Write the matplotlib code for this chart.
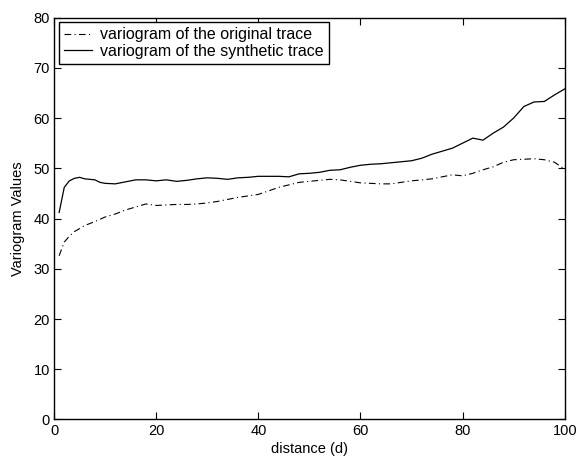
import numpy as np
import matplotlib.pyplot as plt

plt.rcParams['font.family'] = ['Liberation Sans', 'DejaVu Sans']

# distance values and variogram readings
d_orig = [1, 2, 3, 4, 6, 8, 10, 12, 14, 16, 18, 20, 22, 24, 26, 28, 30, 32, 34,
          36, 38, 40, 42, 44, 46, 48, 50, 52, 54, 56, 58, 60, 62, 64, 66, 68,
          70, 72, 74, 76, 78, 80, 82, 84, 86, 88, 90, 92, 94, 96, 98, 100]
v_orig = [32.6, 35.3, 36.5, 37.4, 38.6, 39.4, 40.3, 40.9, 41.7, 42.3, 42.9,
          42.6, 42.7, 42.8, 42.8, 42.9, 43.1, 43.4, 43.8, 44.2, 44.5, 44.8,
          45.5, 46.2, 46.7, 47.2, 47.4, 47.6, 47.8, 47.7, 47.4, 47.1, 47.0,
          46.9, 46.9, 47.2, 47.5, 47.7, 47.9, 48.3, 48.7, 48.5, 49.0, 49.7,
          50.3, 51.2, 51.7, 51.8, 51.9, 51.7, 51.2, 49.8]

d_syn = [1, 2, 3, 4, 5, 6, 7, 8, 9, 10, 12, 14, 16, 18, 20, 22, 24, 26, 28, 30,
         32, 34, 36, 38, 40, 42, 44, 46, 48, 50, 52, 54, 56, 58, 60, 62, 64,
         66, 68, 70, 72, 74, 76, 78, 80, 82, 84, 86, 88, 90, 92, 94, 96, 98, 100]
v_syn = [41.2, 46.2, 47.5, 48.0, 48.2, 47.9, 47.8, 47.7, 47.2, 47.0, 46.9,
         47.3, 47.7, 47.7, 47.5, 47.7, 47.4, 47.6, 47.9, 48.1, 48.0, 47.8,
         48.1, 48.2, 48.4, 48.4, 48.4, 48.3, 48.9, 49.0, 49.2, 49.6, 49.7,
         50.2, 50.6, 50.8, 50.9, 51.1, 51.3, 51.5, 52.0, 52.8, 53.4, 54.0,
         55.0, 56.0, 55.6, 57.0, 58.2, 60.0, 62.3, 63.2, 63.3, 64.6, 65.8]

fig = plt.figure(figsize=(5.81, 4.62), dpi=100)
ax = fig.add_axes([0.093, 0.092, 0.879, 0.870])

ax.plot(d_orig, v_orig, color='black', lw=0.8, linestyle=(0, (6, 3, 1, 3)),
        label='variogram of the original trace')
ax.plot(d_syn, v_syn, color='black', lw=0.9, label='variogram of the synthetic trace')

ax.set_xlim(0, 100)
ax.set_ylim(0, 80)
ax.set_xticks(np.arange(0, 101, 20))
ax.set_yticks(np.arange(0, 81, 10))
ax.tick_params(direction='in', top=True, right=True, length=5, width=0.8,
               labelsize=10.5, pad=3)
for s in ax.spines.values():
    s.set_linewidth(1.0)

ax.set_xlabel('distance (d)', fontsize=10.5, labelpad=3)
ax.set_ylabel('Variogram Values', fontsize=10.5, labelpad=6)

leg = ax.legend(loc='upper left', fontsize=11.5, fancybox=False, framealpha=1,
                edgecolor='black', borderpad=0.3, handlelength=1.8,
                handletextpad=0.5, labelspacing=0.1, borderaxespad=0.3)
leg.get_frame().set_linewidth(1.0)

fig.savefig('out.png', dpi=100)
